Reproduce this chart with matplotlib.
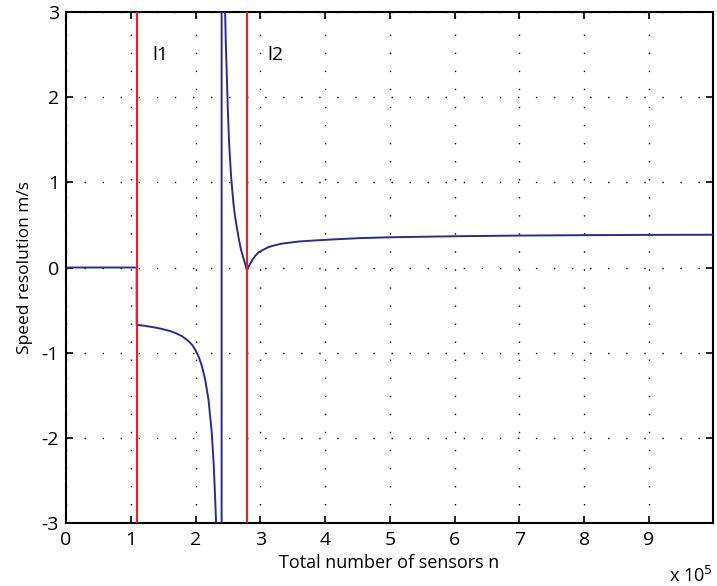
import matplotlib
matplotlib.use("Agg")
import matplotlib.pyplot as plt

# Data (x in units of 1e5 sensors)
x_vals = [0.0, 1.092, 1.092, 1.20, 1.30, 1.40, 1.50, 1.60, 1.70, 1.80, 1.90,
          1.95, 2.00, 2.05, 2.10, 2.15, 2.20, 2.25, 2.28, 2.30, 2.318, 2.34,
          2.36, 2.38, 2.396, 2.400, 2.406, 2.43, 2.45, 2.457, 2.468, 2.484,
          2.499, 2.519, 2.55, 2.586, 2.61, 2.638, 2.67, 2.705, 2.74, 2.767,
          2.793, 2.81, 2.83, 2.87, 2.92, 2.97, 3.05, 3.127, 3.23, 3.33, 3.59,
          3.85, 4.20, 4.54, 5.00, 6.00, 7.00, 8.00, 9.00, 9.99]
y_vals = [0.0, 0.0, -0.674, -0.683, -0.695, -0.708, -0.725, -0.745, -0.772,
          -0.81, -0.87, -0.91, -0.97, -1.05, -1.16, -1.32, -1.55, -1.93, -2.30,
          -2.65, -3.0, -3.8, -5.5, -10.0, -40.0, -100.0, 100.0, 8.0, 3.6, 3.0,
          2.63, 2.24, 1.85, 1.455, 1.06, 0.75, 0.60, 0.47, 0.33, 0.20, 0.11,
          0.04, -0.035, -0.005, 0.025, 0.08, 0.135, 0.175, 0.21, 0.24, 0.262,
          0.28, 0.305, 0.318, 0.333, 0.345, 0.355, 0.367, 0.375, 0.38, 0.383,
          0.385]
boundaries = [1.092, 2.793]
boundary_labels = ["l1", "l2"]
x_ticks = [0, 1, 2, 3, 4, 5, 6, 7, 8, 9]
y_ticks = [-3, -2, -1, 0, 1, 2, 3]

plt.rcParams['font.family'] = ['Open Sans', 'DejaVu Sans']
plt.rcParams['axes.unicode_minus'] = False

fig = plt.figure(figsize=(7.17, 5.86), dpi=100)
ax = fig.add_axes([0.092, 0.1075, 0.9025, 0.872])

ax.plot(x_vals, y_vals, color='#2b2b95', lw=1.4, zorder=3)
for b in boundaries:
    ax.axvline(b, color='#f02020', lw=1.5, zorder=4)
ax.text(1.45, 2.5, boundary_labels[0], fontsize=14, ha='center', va='center')
ax.text(3.23, 2.5, boundary_labels[1], fontsize=14, ha='center', va='center')

ax.set_xlim(0, 9.99)
ax.set_ylim(-3, 3)
ax.set_xticks(x_ticks)
ax.set_yticks(y_ticks)
ax.tick_params(direction='in', top=True, right=True, length=5, width=1.2,
               labelsize=14)
ax.tick_params(axis='x', pad=6)
ax.tick_params(axis='y', pad=5)
for s in ax.spines.values():
    s.set_linewidth(1.5)
ax.grid(True, color='black', linestyle=(0, (1, 12)), linewidth=1.0)

ax.set_xlabel("Total number of sensors n", fontsize=13, labelpad=3)
ax.set_ylabel("Speed resolution m/s", fontsize=12.5, labelpad=6)
fig.text(0.963, 0.0, r"x 10$^5$", fontsize=13, ha='center', va='bottom')

fig.savefig("out.png", dpi=100)
